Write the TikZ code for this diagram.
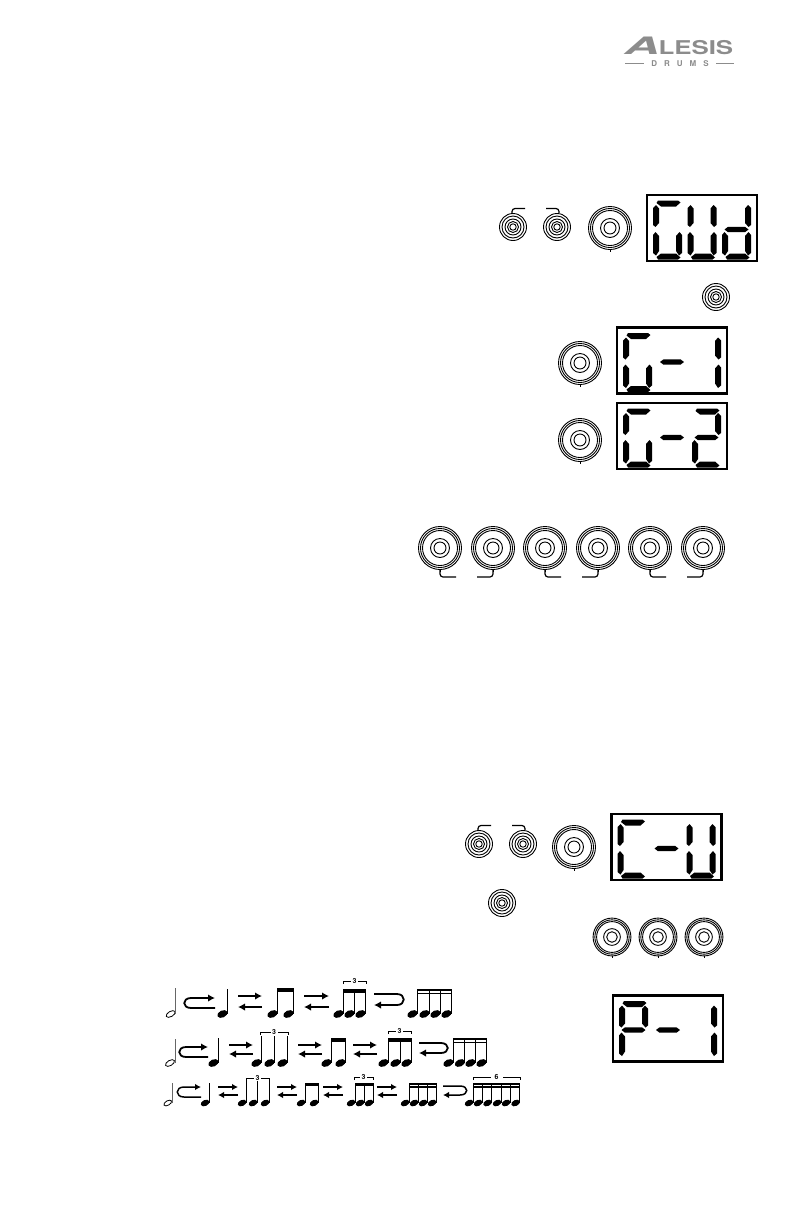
\documentclass[tikz,border=0pt]{standalone}
\usepackage{fontspec}
\usetikzlibrary{arrows.meta,positioning}
\newfontfamily\logofont{TeX Gyre Heros}
\definecolor{logogray}{gray}{0.55}
\tikzset{lcdbox/.style={draw,line width=2.2pt,outer sep=0pt,inner sep=0pt,minimum width=110pt,minimum height=66pt,anchor=north west},
  lcd/.style={fill=black},
  ring/.style={line width=0.9pt},
  hook/.style={line width=1.2pt,rounded corners=3pt},
  swaparr/.style={line width=1.8pt,-{Latex[length=7pt,width=7.5pt]}},
  stemline/.style={line width=1pt},
  bracket/.style={line width=1pt},
  tupletnum/.style={font=\logofont\bfseries\fontsize{7}{7}\selectfont,fill=white,inner sep=0pt,minimum width=7pt},
  logotext/.style={text=logogray,font=\logofont\bfseries\itshape,inner sep=0pt},
  bigknob/.pic={\foreach \r in {21.5,19.5,17.5,9.5,6} \draw[ring] (0,0) circle (\r pt);
    \draw[ring] (0,21.5)--(0,23.5);},
  smallknob/.pic={\foreach \r in {13.5,11,8,5.5,3.2} \draw[ring] (0,0) circle (\r pt);},
  hookupr/.pic={\draw[hook] (-1,-14)--(-1,-18.5)--(12,-18.5);},
  hookupl/.pic={\draw[hook] (2,-14)--(2,-18.5)--(-11,-18.5);},
  hookdownr/.pic={\draw[hook] (0,21.5)--(0,29)--(16,29);},
  hookdownl/.pic={\draw[hook] (0,21.5)--(0,29)--(-16,29);}}
\newcommand{\lcdsega}[2]{\fill[lcd,shift={(#1,#2)}] (5,-0.5)--(25,-0.5)--(27.5,1.5)--(23,5.5)--(8,5.5)--(3.5,2)--cycle;}
\newcommand{\lcdsegd}[2]{\fill[lcd,shift={(#1,#2)}] (5,58.5)--(25,58.5)--(27.5,56.5)--(23,52.5)--(8,52.5)--(3.5,56)--cycle;}
\newcommand{\lcdsegg}[2]{\fill[lcd,shift={(#1,#2)}] (2.5,28.5)--(6,25.8)--(23,25.8)--(26.5,28.5)--(23,31.2)--(6,31.2)--cycle;}
\newcommand{\lcdsegf}[2]{\fill[lcd,shift={(#1,#2)}] (0,7)--(3,4)--(6,7.5)--(6,22)--(2.5,26)--(0,24)--cycle;}
\newcommand{\lcdsege}[2]{\fill[lcd,shift={(#1,#2)}] (0,34)--(2.5,31)--(6,35)--(6,50)--(3,54.5)--(0,52)--cycle;}
\newcommand{\lcdsegb}[2]{\fill[lcd,shift={(#1,#2)}] (29,7)--(26,4)--(23,7.5)--(23,22)--(26.5,26)--(29,24)--cycle;}
\newcommand{\lcdsegc}[2]{\fill[lcd,shift={(#1,#2)}] (29,34)--(26.5,31)--(23,35)--(23,50)--(26,54.5)--(29,52)--cycle;}
\newcommand{\lcddigit}[3]{\foreach \s in {#3} {\csname lcdseg\s\endcsname{#1}{#2}}}
\newcommand{\lcdpanel}[6]{\node[lcdbox] (#1) at (#2,#3) {};
  \lcddigit{#2+6}{#3+6}{#4}\lcddigit{#2+40.5}{#3+6}{#5}\lcddigit{#2+75}{#3+6}{#6}}
\newcommand{\notegroup}[4][1]{\foreach \sx in {#4} {\fill (\sx-4.6*#1,#2) ellipse [x radius=#1*5.4pt,y radius=#1*3.5pt,rotate=25];
  \draw[stemline] (\sx,#2)--(\sx,#3);}}
\newcommand{\halfnote}[4][1]{\draw[line width=0.8pt] (#2-5*#1,#3) ellipse [x radius=#1*5pt,y radius=#1*2.6pt,rotate=30];
  \draw[stemline,black!60] (#2,#3)--(#2,#4);}
\newcommand{\notebeam}[4]{\fill (#1-0.5,#3) rectangle (#2+0.5,#3+#4);}
\newcommand{\tuplet}[6][7pt]{\draw[bracket] (#3,#5+3)--(#3,#5)--(#4,#5)--(#4,#5+3);
  \node[tupletnum,minimum width=#1] (#2) at ({(#3+#4)/2},#5) {#6};}
\newcommand{\swapright}[4]{\draw[swaparr] (#1,#3)--(#2,#3); \draw[swaparr] (#2,#4)--(#1,#4);}
\newcommand{\turnright}[4]{\draw[swaparr] (#2,#4)--(#1+7,#4) .. controls (#1-2,#4) and (#1-2,#3) .. (#1+7,#3)--(#2,#3);}
\newcommand{\turnleft}[4]{\draw[swaparr] (#1,#3)--(#2-7,#3) .. controls (#2+2,#3) and (#2+2,#4) .. (#2-7,#4)--(#1,#4);}

\begin{document}
\begin{tikzpicture}[x=1pt,y=-1pt]
\useasboundingbox (0,0) rectangle (792,1224);
% logo
\node[logotext,font=\logofont\bfseries\itshape\fontsize{24}{24}\selectfont,xscale=2.05,anchor=south west] (logoa) at (624,54.5) {A};
\node[logotext,font=\logofont\bfseries\fontsize{19}{19}\selectfont,xscale=1.36,anchor=south east] (logob) at (733.5,54.5) {LESIS};
\node[text=logogray,font=\logofont\bfseries\fontsize{8}{8}\selectfont,inner sep=0pt] (logoc) at (680,63.5) {D\hspace{7pt}R\hspace{7pt}U\hspace{7pt}M\hspace{7pt}S};
\draw[logogray,line width=1.6pt] (625,63.5)--(644,63.5) (716,63.5)--(734,63.5);
% first block
\pic at (513,227) {smallknob}; \pic at (513,227) {hookupr};
\pic at (557,227) {smallknob}; \pic at (557,227) {hookupl};
\pic at (610,228) {bigknob};
\lcdpanel{gud}{647}{195}{a,f,e,d,c}{f,e,d,c,b}{g,e,d,c,b}
\pic at (716,297) {smallknob};
\pic at (580,363) {bigknob};
\lcdpanel{gone}{617}{327.5}{a,f,e,d,c}{g}{b,c}
\pic at (580,440) {bigknob};
\lcdpanel{gtwo}{617}{403}{a,f,e,d,c}{g}{a,b,g,e,d}
\foreach \kx in {440,545,650} {\pic at (\kx,548) {bigknob}; \pic at (\kx,548) {hookdownr};}
\foreach \kx in {493,598,703} {\pic at (\kx,548) {bigknob}; \pic at (\kx,548) {hookdownl};}
% second block
\pic at (479,844) {smallknob}; \pic at (479,844) {hookupr};
\pic at (523,844) {smallknob}; \pic at (523,844) {hookupl};
\pic at (574,847) {bigknob};
\lcdpanel{cu}{611.5}{814}{a,f,e,d}{g}{f,e,d,c,b}
\pic at (502,903) {smallknob};
\foreach \kx in {612,658,704} \pic[scale=0.88] at (\kx,937) {bigknob};
\lcdpanel{pone}{613}{995.5}{a,b,f,g,e}{g}{b,c}
% note rows
\halfnote{175.7}{1014}{988}
\turnright{184}{215}{998}{1008}
\notegroup{1014}{988.5}{227}
\swapright{238}{262}{996}{1007}
\notegroup{1014}{988}{277,293}
\notebeam{277}{293}{988}{4}
\swapright{304}{329}{996}{1007}
\notegroup{1014}{989}{343,354,365}
\notebeam{343}{365}{989}{3.5}
\tuplet{trione}{343}{366}{981}{3}
\turnleft{374}{404}{994}{1005}
\notegroup{1014}{989}{417,429,440,451}
\notebeam{417}{451}{989}{2.2}
\notebeam{417}{451}{992.5}{1.8}
%
\halfnote{175}{1063}{1039}
\turnright{179}{208}{1047}{1057}
\notegroup{1063}{1038}{218}
\swapright{229}{253}{1045}{1054}
\notegroup{1063}{1036}{261,274,287}
\tuplet{tritwo}{260}{288}{1032}{3}
\swapright{298}{322}{1045}{1054}
\notegroup{1063}{1038}{331,345}
\notebeam{331}{345}{1038}{4}
\swapright{353}{377}{1045}{1054}
\notegroup{1063}{1038}{388,400,411}
\notebeam{388}{411}{1038}{3.5}
\tuplet{trithree}{388}{411}{1031}{3}
\turnleft{419}{448}{1043}{1053}
\notegroup{1063}{1038}{453,464.5,475,486}
\notebeam{453}{486}{1038}{2.2}
\notebeam{453}{486}{1041.5}{1.8}
%
\begin{scope}[swaparr/.append style={line width=1.5pt,-{Latex[length=6pt,width=6.5pt]}}]
\halfnote[0.85]{172}{1103}{1083}
\turnright{177}{201}{1087}{1097}
\notegroup[0.85]{1103}{1083}{209}
\swapright{218}{238}{1087}{1095}
\notegroup[0.85]{1103}{1081}{246,257,269}
\tuplet{trifour}{246}{269}{1078}{3}
\swapright{277}{297}{1087}{1095}
\notegroup[0.85]{1103}{1083}{305,318}
\notebeam{305}{318}{1083}{2.8}
\swapright{323}{343}{1087}{1095}
\notegroup[0.85]{1103}{1083}{355,364,373}
\notebeam{355}{373}{1083}{2.8}
\tuplet{trifive}{354}{373}{1077}{3}
\swapright{377}{397}{1087}{1095}
\notegroup[0.85]{1103}{1083}{409,418,427,436}
\notebeam{409}{436}{1083}{1.8}
\notebeam{409}{436}{1086}{1.6}
\turnleft{443}{467}{1086}{1095}
\notegroup[0.85]{1103}{1083}{473,482,491.5,501,510,519.5}
\notebeam{473}{519.5}{1083}{1.8}
\notebeam{473}{519.5}{1086}{1.6}
\tuplet[12pt]{sextet}{473}{520}{1077}{6}
\end{scope}
\end{tikzpicture}
\end{document}
